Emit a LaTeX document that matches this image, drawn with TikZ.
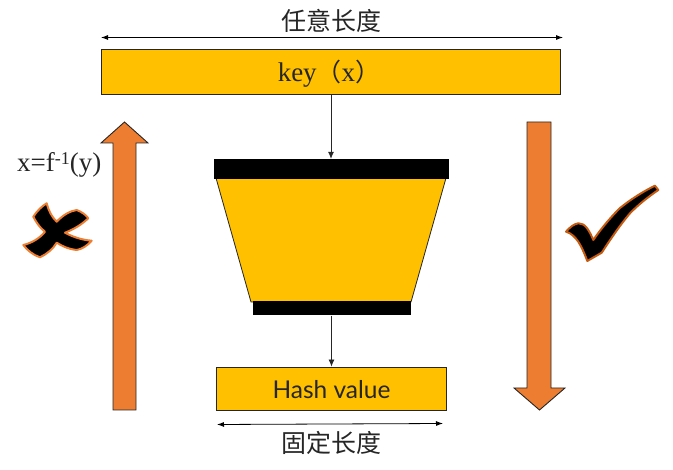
\documentclass[tikz,border=0pt]{standalone}
\usepackage{fontspec}
\setmainfont{Liberation Serif}
\newfontfamily\cjkfont{Noto Sans CJK SC}
\newfontfamily\sansfont{Lato}
\usetikzlibrary{arrows.meta}
\definecolor{gold}{HTML}{FFC000}
\definecolor{orangeA}{HTML}{ED7D31}
\definecolor{orangeB}{HTML}{C55A11}
\tikzset{
  x=1pt,y=-1pt,
  goldbox/.style={draw=black!85,line width=0.9pt,fill=gold,minimum height=0pt,inner sep=0pt},
  blackbar/.style={draw=none,fill=black,inner sep=0pt},
  flow/.style={draw=black!85,line width=0.8pt,-{Latex[length=7pt,width=6pt]}},
  span/.style={draw=black,line width=0.8pt,{Latex[length=7pt,width=5pt]}-{Latex[length=7pt,width=5pt]}},
  bigarrow/.style={draw=black!85,line width=0.9pt,fill=orangeA},
  lbl/.style={inner sep=0pt,text=black!85}
}
\begin{document}
\begin{tikzpicture}
\useasboundingbox (0,0) rectangle (673,470);
\node[goldbox,minimum width=459pt,minimum height=45pt] (key) at (330.5,72) {};
\node[lbl,font=\fontsize{27}{27}\selectfont] (keytext) at (329,74) {key{\cjkfont\fontsize{25}{25}\selectfont （}x{\cjkfont\fontsize{25}{25}\selectfont ）}};
\node[lbl,font=\cjkfont\fontsize{25}{25}\selectfont] (any) at (331,21) {任意长度};
\coordinate (anyL) at (101,37.5);
\coordinate (anyR) at (563,37.5);
\draw[span] (anyL) -- (anyR);
% funnel
\draw[draw=black!85,line width=0.8pt,fill=gold] (216,178) -- (446,178) -- (411,302) -- (251,302) -- cycle;
\node[blackbar,minimum width=235pt,minimum height=20pt] (top) at (331,169) {};
\node[blackbar,minimum width=158pt,minimum height=14pt] (bot) at (332,308.5) {};
\draw[flow] (key.south -| top.north) -- (top.north);
\node[goldbox,minimum width=230pt,minimum height=43pt] (hash) at (331.5,388.5) {};
\node[lbl,font=\sansfont\fontsize{24.5}{24.5}\selectfont] (hashtext) at (331.5,390) {Hash value};
\draw[flow] (bot.south -| hash.north) -- (hash.north);
\coordinate (fixL) at (217,424.5);
\coordinate (fixR) at (443,423.5);
\draw[span] (fixL) -- (fixR);
\node[lbl,font=\cjkfont\fontsize{25}{25}\selectfont] (fix) at (331,443) {固定长度};
% big arrows
\draw[bigarrow] (113,410) -- (113,143) -- (101,143) -- (124.5,122) -- (148,143) -- (136,143) -- (136,410) -- cycle;
\draw[bigarrow] (527,122) -- (551,122) -- (551,388) -- (565,388) -- (539.5,410) -- (514,388) -- (527,388) -- cycle;
\node[lbl,font=\fontsize{27}{27}\selectfont,anchor=west] (inv) at (17,165) {x=f\raisebox{7pt}{\fontsize{18}{18}\selectfont -1}(y)};
% cross
\draw[draw=orangeA,line width=2pt,fill=black,line join=round]
 (33.3,216.7) .. controls (37,211) and (42,206) .. (46.7,203.3)
 .. controls (49,212) and (52,217) .. (56.7,221.7)
 .. controls (63,215) and (70,211) .. (76.7,210)
 .. controls (82,212) and (86,215) .. (88.3,218.3)
 .. controls (80,226) and (72,230) .. (65,232.7)
 .. controls (73,237) and (82,240) .. (91.7,240.7)
 .. controls (87,246) and (82,249) .. (76.7,250)
 .. controls (68,249) and (62,246) .. (56.7,242.7)
 .. controls (53,249) and (47,254) .. (40,257.3)
 .. controls (33,255) and (27,250) .. (23.3,245)
 .. controls (32,243) and (40,238) .. (45,231.7)
 .. controls (40,228) and (36,222) .. (33.3,216.7) -- cycle;
% check
\draw[draw=orangeB,line width=2pt,fill=black,line join=round]
 (566,231.7) .. controls (570,227) and (574,224) .. (578.3,223.3)
 .. controls (585,223) and (589,230) .. (593.3,240)
 .. controls (603,226) and (612,216) .. (620,208)
 .. controls (630,200) and (642,192) .. (655,185.7)
 -- (658.3,190)
 .. controls (648,197) and (638,205) .. (630,213.3)
 .. controls (620,225) and (610,240) .. (601.7,252.7)
 -- (587.3,261)
 .. controls (584,252) and (581,246) .. (578.3,241.7)
 .. controls (575,237) and (571,233) .. (566,231.7) -- cycle;
\end{tikzpicture}
\end{document}
